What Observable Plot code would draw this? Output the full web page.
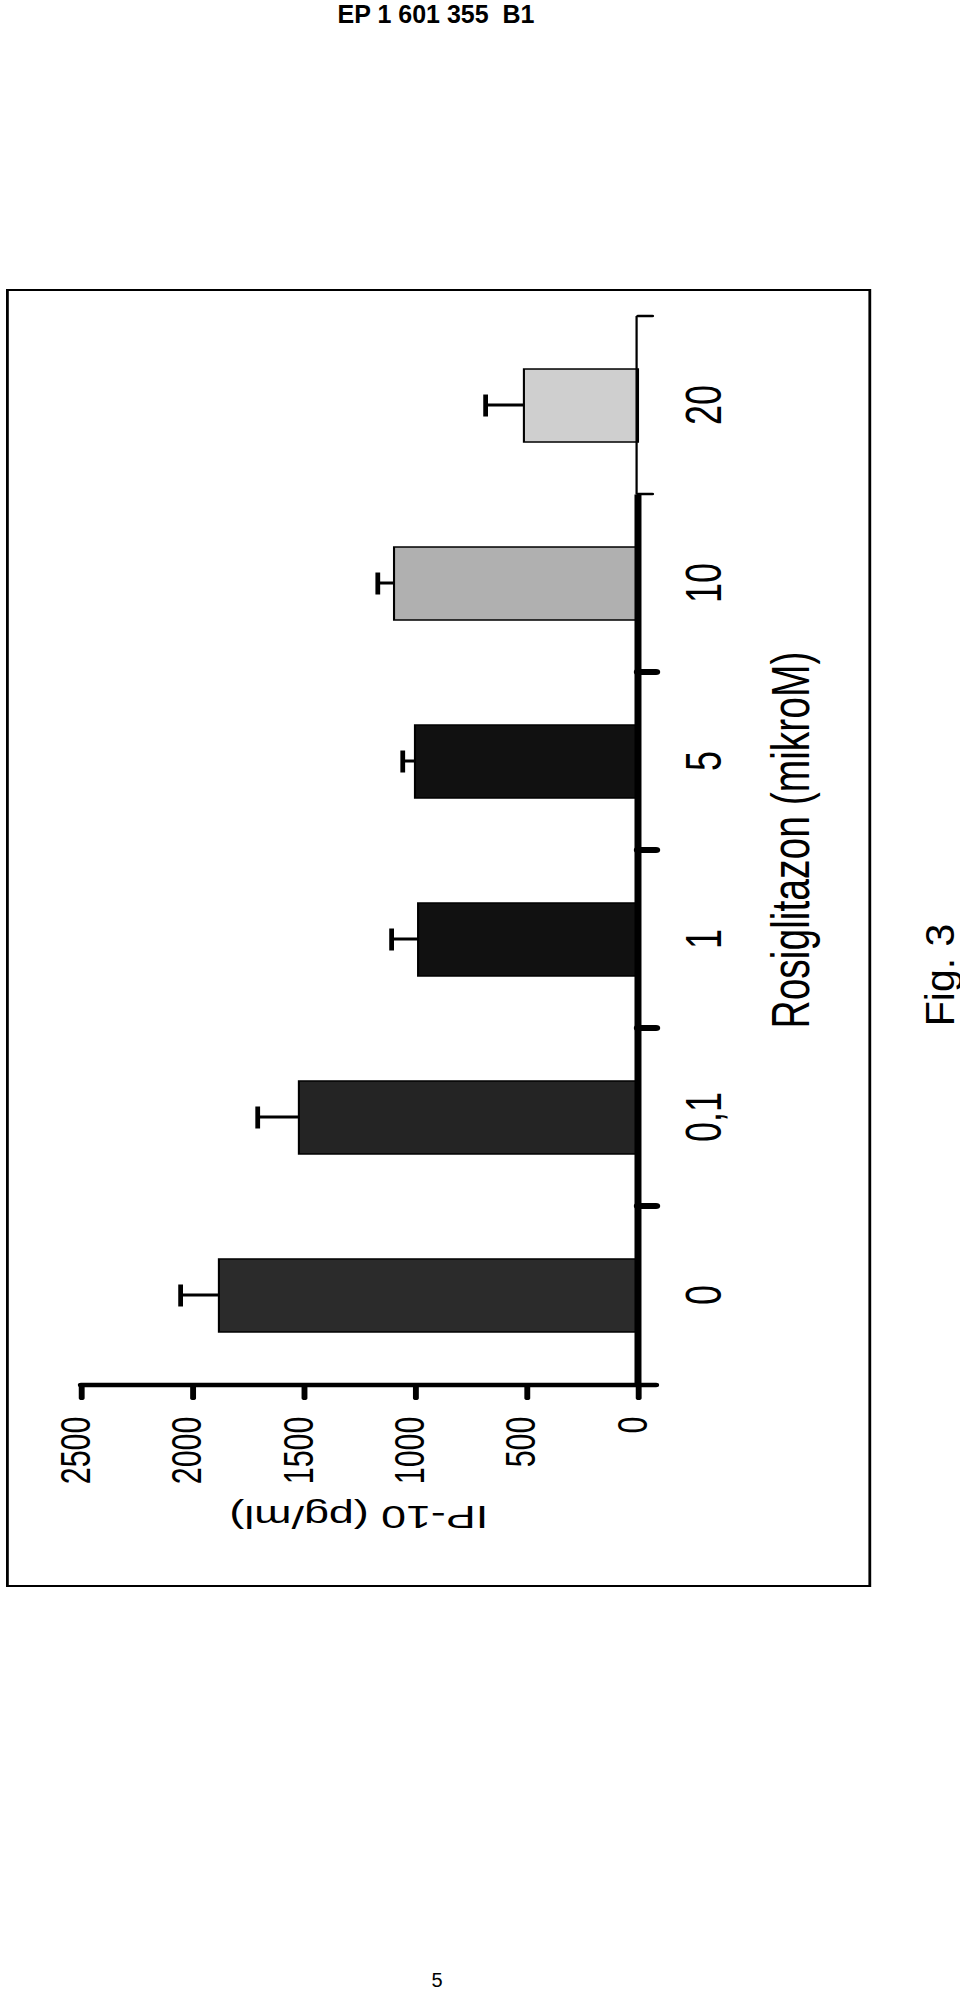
<!DOCTYPE html>
<html>
<head>
<meta charset="utf-8">
<script src="https://cdn.jsdelivr.net/npm/d3@7"></script>
<script src="https://cdn.jsdelivr.net/npm/@observablehq/plot@0.6"></script>
<style>
  html, body { margin: 0; padding: 0; background: #fff; }
  body { width: 960px; height: 1992px; position: relative; overflow: hidden; font-family: "Liberation Sans", Arial, sans-serif; color: #000; }
  #header { position: absolute; left: 0; top: 2px; width: 872px; text-align: center; font-weight: bold; font-size: 25px; line-height: 1; white-space: pre; }
  #page { position: absolute; left: 0; top: 1970px; width: 874px; text-align: center; font-size: 20px; line-height: 1; }
  #fig { position: absolute; left: 940px; top: 975px; transform: translate(-50%, -50%) rotate(-90deg); font-size: 41px; line-height: 1; white-space: pre; }
  #chartwrap { position: absolute; left: 0; top: 0; transform-origin: 0 0; }
  #chartwrap .border { position: absolute; inset: 0; border: 2px solid #000; box-sizing: border-box; pointer-events: none; }
</style>
</head>
<body>
<div id="header">EP 1 601 355  B1</div>
<div id="chartwrap"><div id="chart"></div><div class="border"></div></div>
<div id="fig">Fig. 3</div>
<div id="page">5</div>
<script>
// ---- data ----
const categories = ["0", "0,1", "1", "5", "10", "20"];
const means      = [1881, 1522, 987, 1001, 1095, 512];
const errorsUp   = [175, 188, 122, 58, 76, 175];
const barFills   = ["#2b2b2b", "#242424", "#111111", "#111111", "#b0b0b0", "#cfcfcf"];
const valueTicks = [0, 500, 1000, 1500, 2000, 2500];
const xLabel = "Rosiglitazon (mikroM)";
const yLabel = "IP-10 (pg/ml)";

const data = categories.map((c, i) => ({cat: c, mean: means[i], err: errorsUp[i], fill: barFills[i]}));

// ---- layout: the chart is drawn upright, then turned -90deg on the page ----
const S = 1.4;            // the scanned figure is stretched across the page
const W = 1298;           // page-vertical extent of the frame
const H = 865 / S;        // page-horizontal extent of the frame (before stretch)
const mL = 202, mR = 27, mT = 75 / S, mB = (865 - 632) / S;
const padIn = 0.59;
const step = (W - mL - mR) / categories.length;
const catTick = 18 / S;
const breakAfter = "10";  // the axis is drawn thinner beyond this category

const font = "'Liberation Sans', Arial, sans-serif";

const valueAxisLine = (index, scales, values, dimensions) => {
  const g = d3.create("svg:g");
  g.append("line")
    .attr("x1", dimensions.marginLeft).attr("x2", dimensions.marginLeft)
    .attr("y1", scales.y(2500)).attr("y2", scales.y(0) + catTick)
    .attr("stroke", "#000").attr("stroke-width", 4.5).attr("stroke-linecap", "round");
  return g.node();
};

const categoryAxisLine = (index, scales, values, dimensions) => {
  const g = d3.create("svg:g");
  const bw = scales.x.bandwidth ? scales.x.bandwidth() : step * (1 - padIn);
  const i = categories.indexOf(breakAfter);
  const brk = (scales.x(categories[i]) + scales.x(categories[i + 1])) / 2 + bw / 2;
  const y0 = scales.y(0);
  const x0 = dimensions.marginLeft, x1 = dimensions.width - dimensions.marginRight;
  g.append("line").attr("x1", x0).attr("x2", brk).attr("y1", y0).attr("y2", y0)
    .attr("stroke", "#000").attr("stroke-width", 5);
  g.append("line").attr("x1", brk).attr("x2", x1).attr("y1", y0 - 1).attr("y2", y0 - 1)
    .attr("stroke", "#000").attr("stroke-width", 1.6);
  return g.node();
};

const thick = categories.slice(0, categories.indexOf(breakAfter));
const thin = categories.slice(categories.indexOf(breakAfter));

const chart = Plot.plot({
  width: W, height: H,
  marginLeft: mL, marginRight: mR, marginTop: mT, marginBottom: mB,
  style: {fontFamily: font, background: "transparent", color: "#000", overflow: "visible"},
  x: {domain: categories, paddingInner: padIn, paddingOuter: padIn / 2, axis: null},
  y: {domain: [0, 2500], axis: null},
  color: {type: "identity"},
  marks: [
    Plot.barY(data, {x: "cat", y: "mean", fill: "fill", stroke: "#000", strokeWidth: 1.5}),
    Plot.ruleX(data, {x: "cat", y1: "mean", y2: d => d.mean + d.err, stroke: "#000", strokeWidth: 3}),
    Plot.tickY(data, {x: "cat", y: d => d.mean + d.err, stroke: "#000", strokeWidth: 3.4, insetLeft: 25.5, insetRight: 25.5}),
    categoryAxisLine,
    Plot.axisX({anchor: "bottom", ticks: thick, tickSize: catTick, tickFormat: () => "", dx: step / 2, label: null, stroke: "#000", strokeWidth: 6, strokeLinecap: "round"}),
    Plot.axisX({anchor: "bottom", ticks: thin, tickSize: catTick * 0.8, tickFormat: () => "", dx: step / 2, label: null, stroke: "#000", strokeWidth: 2.5, strokeLinecap: "round"}),
    Plot.axisX({anchor: "bottom", tickSize: 0, tickPadding: 33, fontSize: 36, label: null}),
    valueAxisLine,
    Plot.axisY({anchor: "left", ticks: valueTicks, tickFormat: () => "", tickSize: 13, label: null, stroke: "#000", strokeWidth: 4.2, strokeLinecap: "round"}),
    Plot.axisY({anchor: "left", ticks: valueTicks, tickFormat: d => String(d), tickSize: 0, tickPadding: 32, dy: -4, fontSize: 30.5, label: null}),
    Plot.text([xLabel], {frameAnchor: "bottom", dx: 10, dy: 94, lineAnchor: "top", textAnchor: "middle", fontSize: 39}),
    Plot.text([yLabel], {frameAnchor: "left", dx: -132, dy: -1, rotate: -90, textAnchor: "middle", lineAnchor: "middle", fontSize: 32, letterSpacing: 1})
  ]
});

document.getElementById("chart").appendChild(chart);
const wrap = document.getElementById("chartwrap");
wrap.style.width = W + "px";
wrap.style.height = H + "px";
wrap.style.transform = `translate(6px, 1587px) rotate(-90deg) scaleY(${S})`;
</script>
</body>
</html>
